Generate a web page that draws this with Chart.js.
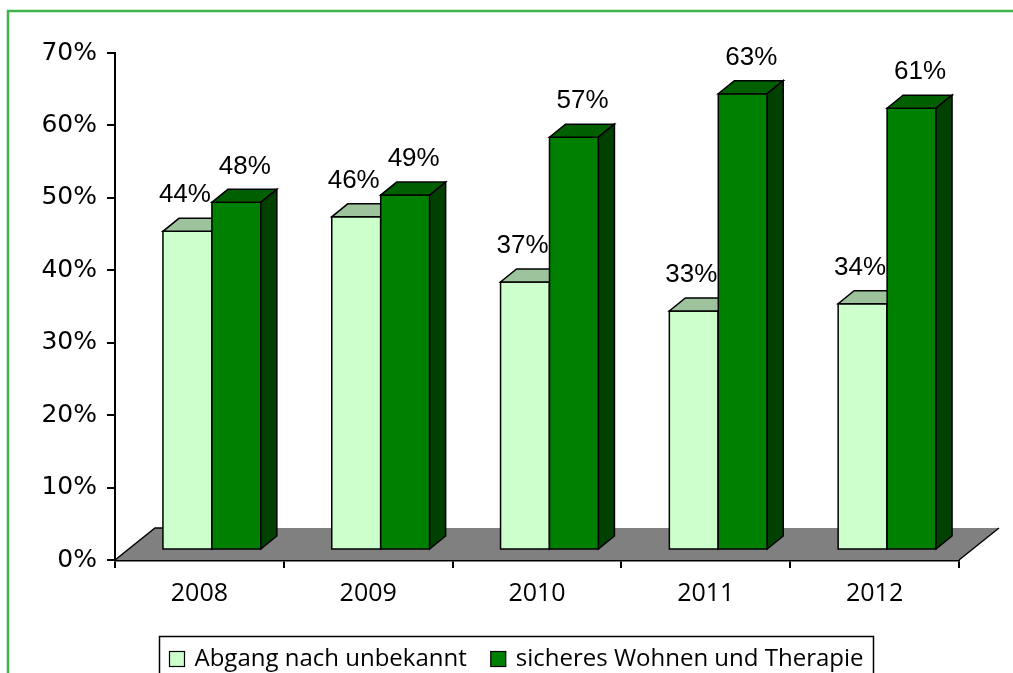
<!DOCTYPE html>
<html>
<head>
<meta charset="utf-8">
<style>
  html, body { margin: 0; padding: 0; background: #ffffff; }
  #wrap { width: 1013px; height: 673px; position: relative; overflow: hidden; }
  canvas { display: block; }
</style>
<script src="https://cdn.jsdelivr.net/npm/chart.js@4.4.1/dist/chart.umd.min.js"></script>
</head>
<body>
<div id="wrap"><canvas id="c" width="1013" height="673"></canvas></div>
<script>
// ---- data ----
const categories = ['2008', '2009', '2010', '2011', '2012'];
const seriesNames = ['Abgang nach unbekannt', 'sicheres Wohnen und Therapie'];
const abgangValues = [44, 46, 37, 33, 34];
const sicheresValues = [48, 49, 57, 63, 61];
const yTicks = [0, 10, 20, 30, 40, 50, 60, 70];

// ---- style ----
const FRONT = ['#CCFFCC', '#008000'];
const TOP = ['#9DC39D', '#006000'];
const SIDE = ['#7FA87F', '#004000'];
const DX = 12.5, DY = -10;      // bar front offset into depth
const BDX = 16, BDY = 13;       // bar depth
const FDX = 40, FDY = 32;       // floor depth
const LABEL_SHIFT = [-2.5, 8.5];

const threeD = {
  id: 'threeD',
  beforeDatasetsDraw(chart) {
    const ctx = chart.ctx;
    const a = chart.chartArea;
    const y0 = chart.scales.y.getPixelForValue(0);
    ctx.save();
    ctx.beginPath();
    ctx.moveTo(a.left, y0);
    ctx.lineTo(a.right, y0);
    ctx.lineTo(a.right + FDX, y0 - FDY);
    ctx.lineTo(a.left + FDX, y0 - FDY);
    ctx.closePath();
    ctx.fillStyle = '#808080';
    ctx.fill();
    ctx.strokeStyle = '#000';
    ctx.lineWidth = 1.5;
    ctx.beginPath();
    ctx.moveTo(a.left, y0); ctx.lineTo(a.left + FDX, y0 - FDY);
    ctx.lineTo(a.left + FDX + 8, y0 - FDY);
    ctx.stroke();
    ctx.beginPath();
    ctx.moveTo(a.right, y0); ctx.lineTo(a.right + FDX, y0 - FDY);
    ctx.stroke();
    ctx.restore();
  },
  // bars are drawn below as 3D boxes, in series order
  beforeDatasetDraw() { return false; },
  afterDatasetsDraw(chart) {
    const ctx = chart.ctx;
    ctx.save();
    ctx.lineWidth = 1.5;
    ctx.strokeStyle = '#000';
    ctx.lineJoin = 'miter';
    chart.data.datasets.forEach((ds, i) => {
      chart.getDatasetMeta(i).data.forEach(el => {
        const p = el.getProps(['x', 'y', 'base', 'width'], true);
        const l = p.x - p.width / 2 + DX, r = p.x + p.width / 2 + DX;
        const t = p.y + DY, b = p.base + DY;
        // front
        ctx.beginPath();
        ctx.rect(l, t, r - l, b - t);
        ctx.fillStyle = FRONT[i];
        ctx.fill();
        ctx.stroke();
        // top face
        ctx.beginPath();
        ctx.moveTo(l, t);
        ctx.lineTo(r, t);
        ctx.lineTo(r + BDX, t - BDY);
        ctx.lineTo(l + BDX, t - BDY);
        ctx.closePath();
        ctx.fillStyle = TOP[i];
        ctx.fill();
        ctx.stroke();
        // side face
        ctx.beginPath();
        ctx.moveTo(r, t);
        ctx.lineTo(r + BDX, t - BDY);
        ctx.lineTo(r + BDX, b - BDY);
        ctx.lineTo(r, b);
        ctx.closePath();
        ctx.fillStyle = SIDE[i];
        ctx.fill();
        ctx.stroke();
      });
    });
    // value labels
    ctx.font = '26px "Liberation Sans", Arial, sans-serif';
    ctx.fillStyle = '#000';
    ctx.textAlign = 'center';
    ctx.textBaseline = 'middle';
    chart.data.datasets.forEach((ds, i) => {
      chart.getDatasetMeta(i).data.forEach((el, j) => {
        const p = el.getProps(['x', 'y'], true);
        ctx.fillText(ds.data[j] + '%', p.x + DX + LABEL_SHIFT[i], p.y + DY - 36);
      });
    });
    ctx.restore();
  },
  afterDraw(chart) {
    const ctx = chart.ctx;
    ctx.save();
    // legend
    ctx.font = '24px "Open Sans", sans-serif';
    const sq = 15, gapSq = 10, gapItem = 24, pad = 10;
    const widths = chart.data.datasets.map(d => ctx.measureText(d.label).width);
    let total = pad * 2 + gapItem;
    widths.forEach(w => total += sq + gapSq + w);
    const cx = 516;
    const bx = Math.round(cx - total / 2) + 0.5;
    const by = 636.5;
    ctx.strokeStyle = '#000';
    ctx.lineWidth = 1.5;
    ctx.strokeRect(bx, by, total, 60);
    let x = bx + pad;
    const ty = 659;
    ctx.textBaseline = 'middle';
    ctx.textAlign = 'left';
    chart.data.datasets.forEach((d, i) => {
      ctx.fillStyle = FRONT[i];
      ctx.fillRect(x, ty - 7.5, sq, sq);
      ctx.lineWidth = 1.2;
      ctx.strokeRect(x, ty - 7.5, sq, sq);
      x += sq + gapSq;
      ctx.fillStyle = '#000';
      ctx.fillText(d.label, x, ty);
      x += widths[i] + gapItem;
    });
    // outer green frame
    ctx.strokeStyle = '#3CB44B';
    ctx.lineWidth = 2.5;
    ctx.strokeRect(8, 11, 1100, 800);
    ctx.restore();
  }
};

const bg = {
  id: 'bg',
  beforeDraw(chart) {
    const ctx = chart.ctx;
    ctx.save();
    ctx.fillStyle = '#fff';
    ctx.fillRect(0, 0, chart.width, chart.height);
    ctx.restore();
  }
};

new Chart(document.getElementById('c'), {
  type: 'bar',
  data: {
    labels: categories,
    datasets: [
      { label: seriesNames[0], data: abgangValues, backgroundColor: FRONT[0] },
      { label: seriesNames[1], data: sicheresValues, backgroundColor: FRONT[1] }
    ]
  },
  options: {
    responsive: false,
    animation: false,
    devicePixelRatio: 1,
    layout: { padding: { left: 0, top: 53, right: 54, bottom: 63 } },
    datasets: {
      bar: {
        borderColor: '#000',
        borderWidth: 1.5,
        borderSkipped: false,
        categoryPercentage: 0.58,
        barPercentage: 1.0
      }
    },
    plugins: { legend: { display: false }, tooltip: { enabled: false } },
    scales: {
      x: {
        z: 1,
        afterFit(s) { s.height = 50; },
        grid: { offset: true, drawOnChartArea: false, drawTicks: true, tickLength: 8, color: '#000', lineWidth: 2 },
        border: { display: true, color: '#000', width: 2.5 },
        ticks: { color: '#000', font: { family: '"Open Sans", sans-serif', size: 25 }, padding: 11 }
      },
      y: {
        z: 1,
        min: 0, max: 70,
        afterFit(s) { s.width = 115; },
        afterBuildTicks(s) { s.ticks = yTicks.map(v => ({ value: v })); },
        grid: { drawOnChartArea: false, drawTicks: true, tickLength: 8, color: '#000', lineWidth: 2 },
        border: { display: true, color: '#000', width: 2 },
        ticks: { color: '#000', font: { family: '"DejaVu Sans", sans-serif', size: 25 }, padding: 10, callback: v => v + '%' }
      }
    }
  },
  plugins: [bg, threeD]
});
</script>
</body>
</html>
